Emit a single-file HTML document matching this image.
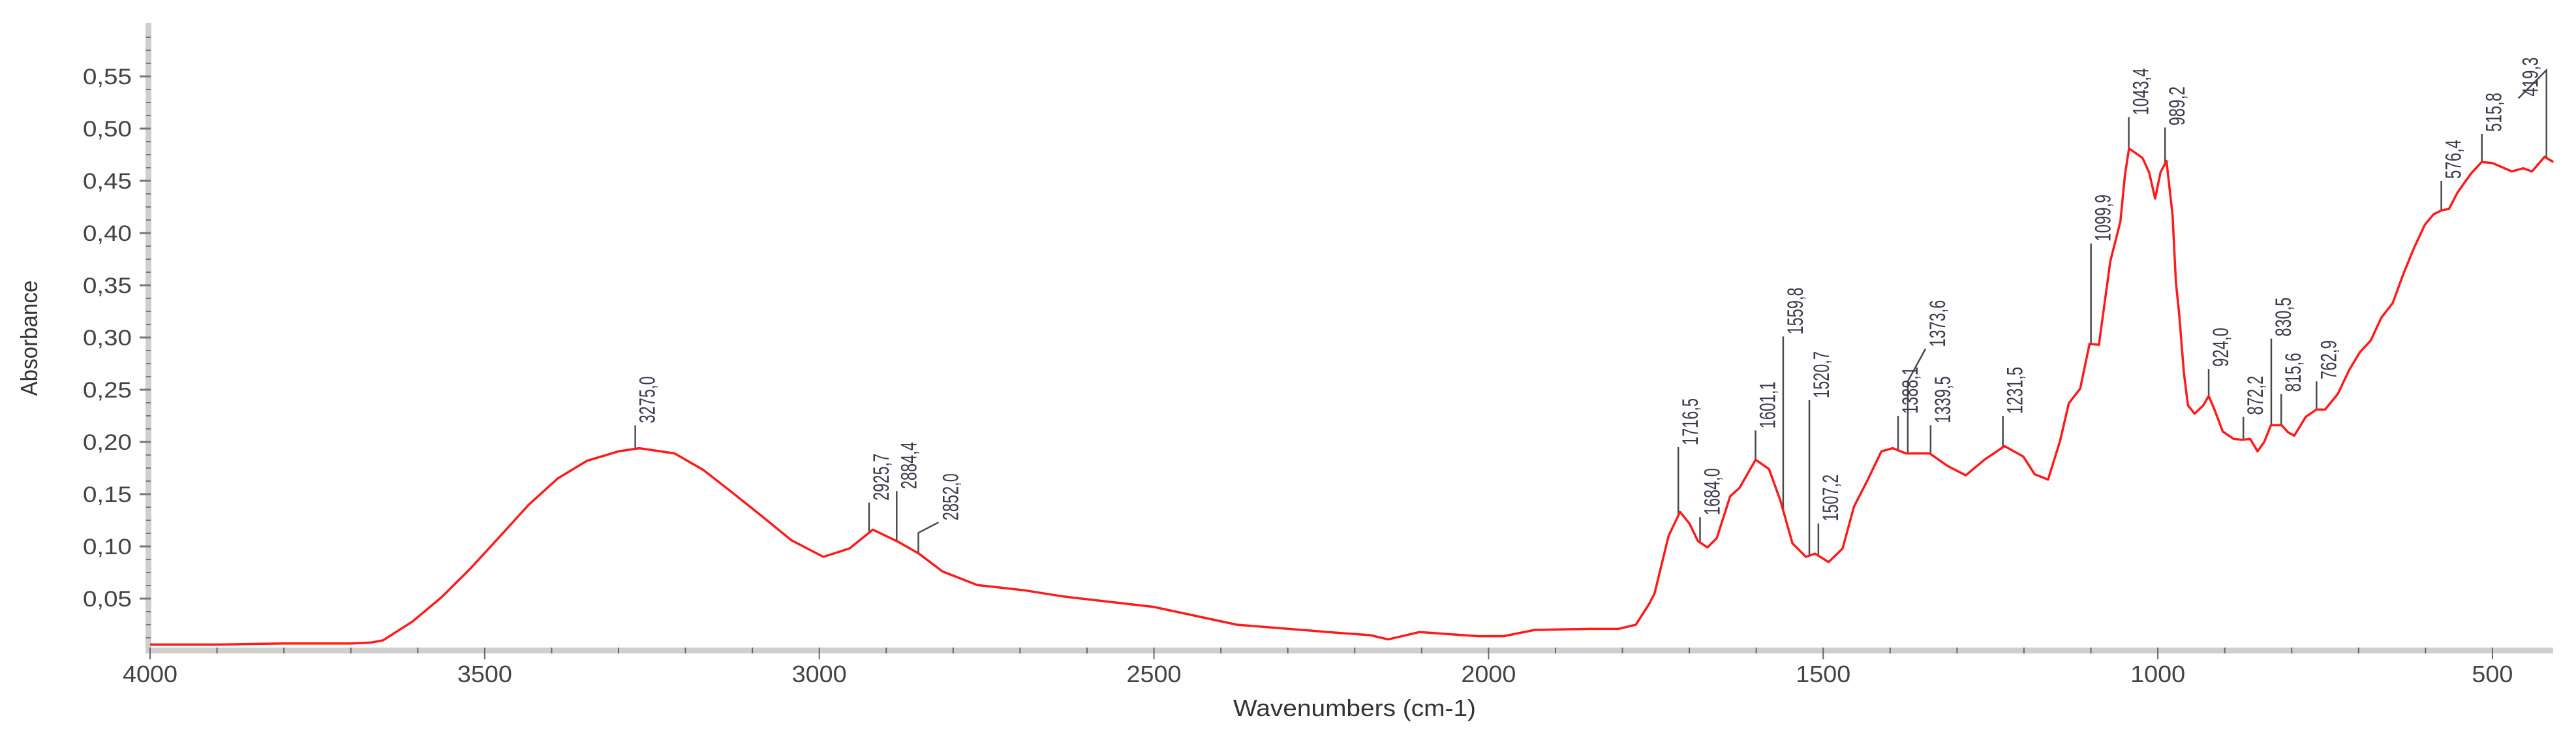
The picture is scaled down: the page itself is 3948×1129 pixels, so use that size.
<!DOCTYPE html>
<html><head><meta charset="utf-8">
<style>
html,body{margin:0;padding:0;background:#fff;}
svg{display:block;}
text{font-family:"Liberation Sans",sans-serif;}
</style></head>
<body>
<svg id="chart" xmlns="http://www.w3.org/2000/svg" width="3948" height="1129" viewBox="0 0 3948 1129">
  <rect x="0" y="0" width="3948" height="1129" fill="#fff"/>
  <g id="axes"></g>
  <g id="leaders"></g>
  <path id="spectrum" fill="none" stroke="#ff1a1a" stroke-width="3.5" stroke-linejoin="round"/>
  <g id="labels"></g>
  <text x="57" y="518" transform="rotate(-90 57 518)" text-anchor="middle" font-size="36" fill="#333" textLength="177" lengthAdjust="spacingAndGlyphs">Absorbance</text>
  <text x="2076" y="1097" text-anchor="middle" font-size="36" fill="#333" textLength="372" lengthAdjust="spacingAndGlyphs">Wavenumbers (cm-1)</text>
</svg>
<script>
const wavenumbers = [4000,3900,3800,3700,3669,3652,3608,3565,3521,3478,3434,3391,3347,3300,3269,3216,3173,3129,3086,3042,2994,2955,2920,2881,2851,2816,2764,2694,2635,2500,2376,2221,2177,2150,2103,2015,1978,1931,1850,1806,1780,1760,1752,1731,1714,1700,1687,1673,1659,1639,1625,1601,1581,1564,1546,1526,1512,1492,1471,1454,1434,1413,1396,1376,1341,1314,1287,1259,1229,1201,1184,1164,1146,1133,1116,1102,1088,1071,1056,1049,1043,1023,1013,1004,996,987,978,973,968,961,955,945,932,924,916,903,887,874,862,851,841,831,815,805,796,779,763,750,731,714,698,682,666,649,633,617,601,588,575,565,552,532,516,500,471,454,441,422,409];
const absorbance = [0.006,0.006,0.007,0.007,0.008,0.010,0.028,0.051,0.079,0.109,0.140,0.165,0.182,0.191,0.194,0.189,0.173,0.151,0.129,0.106,0.090,0.098,0.116,0.104,0.093,0.076,0.063,0.058,0.052,0.042,0.025,0.017,0.015,0.011,0.018,0.014,0.014,0.020,0.021,0.021,0.025,0.045,0.055,0.110,0.133,0.122,0.105,0.099,0.108,0.148,0.156,0.183,0.174,0.144,0.103,0.090,0.093,0.085,0.098,0.138,0.163,0.191,0.194,0.189,0.189,0.177,0.168,0.183,0.196,0.186,0.169,0.164,0.201,0.237,0.251,0.294,0.293,0.373,0.411,0.456,0.481,0.472,0.458,0.433,0.458,0.469,0.417,0.353,0.322,0.266,0.235,0.227,0.235,0.244,0.232,0.210,0.203,0.202,0.203,0.191,0.200,0.216,0.216,0.209,0.206,0.224,0.231,0.231,0.246,0.269,0.286,0.297,0.319,0.333,0.361,0.386,0.408,0.418,0.422,0.423,0.439,0.457,0.468,0.467,0.459,0.462,0.459,0.473,0.468];
const xTicks = [4000,3500,3000,2500,2000,1500,1000,500];
const xTickLabels = ["4000","3500","3000","2500","2000","1500","1000","500"];
const yTicks = [0.05,0.10,0.15,0.20,0.25,0.30,0.35,0.40,0.45,0.50,0.55];
const yTickLabels = ["0,05","0,10","0,15","0,20","0,25","0,30","0,35","0,40","0,45","0,50","0,55"];
const peakWn = [3275.0,2925.7,2884.4,2852.0,1716.5,1684.0,1601.1,1559.8,1520.7,1507.2,1388.1,1373.6,1339.5,1231.5,1099.9,1043.4,989.2,924.0,872.2,830.5,815.6,762.9,576.4,515.8,419.3];
const peakText = ["3275,0","2925,7","2884,4","2852,0","1716,5","1684,0","1601,1","1559,8","1520,7","1507,2","1388,1","1373,6","1339,5","1231,5","1099,9","1043,4","989,2","924,0","872,2","830,5","815,6","762,9","576,4","515,8","419,3"];
// label heights in absorbance units (top of leader line)
const peakLabelLevel = [0.216,0.142,0.153,0.113,0.195,0.128,0.211,0.301,0.240,0.122,0.225,0.258,0.216,0.225,0.390,0.511,0.501,0.270,0.224,0.299,0.246,0.258,0.450,0.495,0.556];
const peakKinkLevel = [null,null,null,0.123,null,null,null,null,null,null,null,0.289,null,null,null,null,null,null,null,null,null,null,null,null,0.529];
const peakKinkDx = [0,0,0,31,0,0,0,0,0,0,0,27,0,0,0,0,0,0,0,0,0,0,0,0,-43];

const NS = "http://www.w3.org/2000/svg";
const X = w => 230 + (4000 - w) * 1.0257;
const Y = v => 997 - v * 1600;
function mk(tag, attrs, parent){ const e=document.createElementNS(NS,tag); for(const k in attrs) e.setAttribute(k,attrs[k]); parent.appendChild(e); return e; }
function curveAt(w){
  for(let i=0;i<wavenumbers.length-1;i++){
    const a=wavenumbers[i], b=wavenumbers[i+1];
    if(w<=a && w>=b){ const t=(a-w)/(a-b); return absorbance[i]+(absorbance[i+1]-absorbance[i])*t; }
  }
  return absorbance[absorbance.length-1];
}
const axes = document.getElementById('axes');
let yb = mk('rect',{x:223,y:35,width:9,height:966,fill:'#cfcfcf'},axes);


let xb = mk('rect',{x:223,y:992,width:3690,height:9,fill:'#cfcfcf'},axes);


for(let v=0.0125; Y(v)>38; v+=0.0125){
  const t=mk('line',{x1:224,x2:231,y1:Y(v),y2:Y(v),stroke:'#777','stroke-width':2},axes);
  
  
}
yTicks.forEach((v,i)=>{
  const t=mk('line',{x1:214,x2:231,y1:Y(v),y2:Y(v),stroke:'#777','stroke-width':3},axes);
  
  
  const l=mk('text',{x:202,y:Y(v)+12,'text-anchor':'end','font-size':34,fill:'#444',textLength:75,lengthAdjust:'spacingAndGlyphs'},axes);
  l.textContent=yTickLabels[i];
  
  
});
for(let w=4000; w>=500; w-=100){
  const major = w%500===0;
  const t=mk('line',{x1:X(w),x2:X(w),y1:992,y2:major?1010:1001,stroke:'#666','stroke-width':2},axes);
  
  
}
xTicks.forEach((w,i)=>{
  const l=mk('text',{x:X(w),y:1045,'text-anchor':'middle','font-size':36,fill:'#444',textLength:xTickLabels[i].length*21,lengthAdjust:'spacingAndGlyphs'},axes);
  l.textContent=xTickLabels[i];
  
  
});
let d='';
wavenumbers.forEach((w,i)=>{ d += (i?'L':'M') + X(w).toFixed(1) + ' ' + Y(absorbance[i]).toFixed(1) + ' '; });
document.getElementById('spectrum').setAttribute('d', d);
const leaders=document.getElementById('leaders'), labels=document.getElementById('labels');
peakWn.forEach((w,i)=>{
  const x=X(w), yb2=Y(curveAt(w)), yt=Y(peakLabelLevel[i]);
  let pts = `${x},${yb2} ${x},${yt}`;
  let ex=x, ey=yt;
  if(peakKinkLevel[i]!==null){
    ey=Y(peakKinkLevel[i]);
    ex = x + peakKinkDx[i];
    pts += ` ${ex},${ey}`;
  }
  const pl=mk('polyline',{points:pts,fill:'none',stroke:'#4a4a4a','stroke-width':2.5},leaders);
  
  
  const tx = ex + 30, ty = ey - 3;
  const txt=mk('text',{x:tx,y:ty,transform:`rotate(-90 ${tx} ${ty})`,'font-size':34,fill:'#3a3a4a',textLength:peakText[i].length*12,lengthAdjust:'spacingAndGlyphs'},labels);
  txt.textContent=peakText[i];
  
  
});
</script>
</body></html>
